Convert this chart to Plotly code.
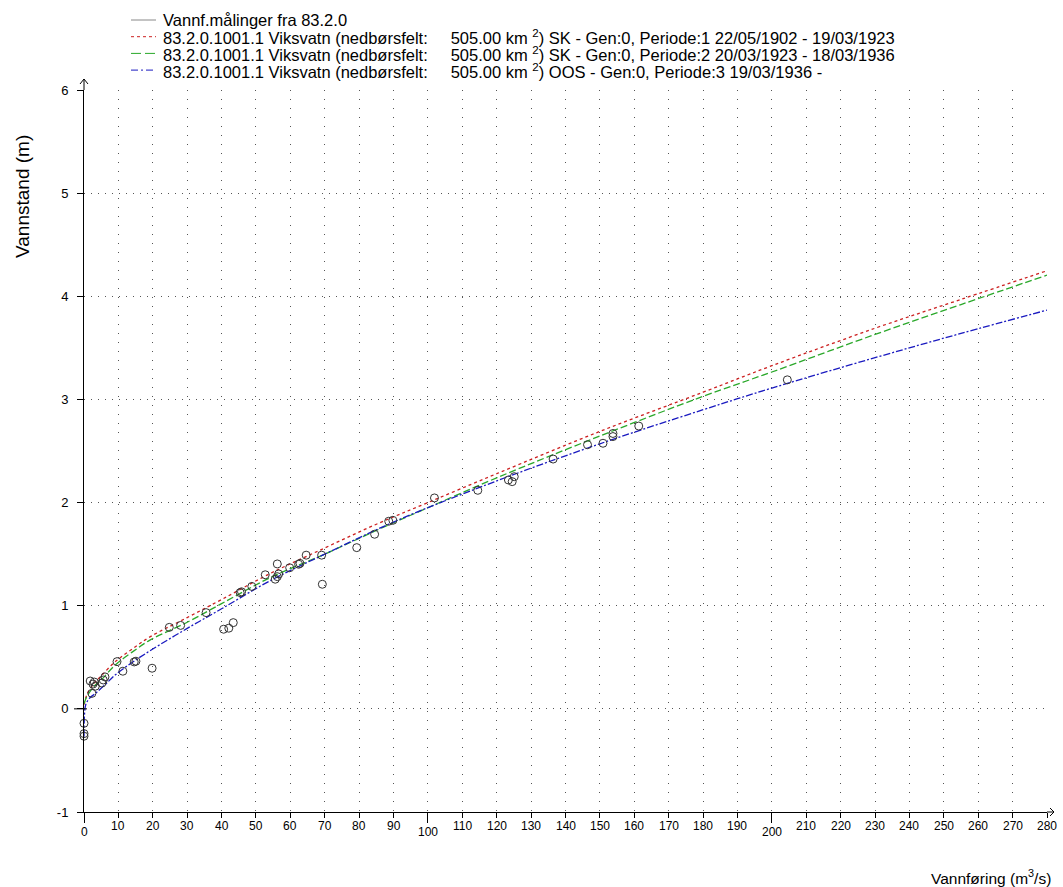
import plotly.graph_objects as go

# ---------------- data ----------------
meas_q = [0, 0, 0, 1.8, 2.3, 2.6, 3.0, 3.3, 5.2, 5.6, 6.1,
          9.6, 11.3, 14.6, 15.1, 19.8, 24.8, 28.1, 35.5, 40.6, 42.1, 43.4,
          45.4, 45.8, 48.8, 52.7, 55.6, 56.2, 56.6, 56.2, 59.8, 62.4, 62.8,
          64.6, 69.1, 69.3, 79.3, 84.5, 88.6, 89.8, 101.9, 114.5, 123.4,
          124.5, 125.1, 136.4, 146.4, 150.9, 153.8, 153.8, 161.3, 204.5]
meas_h = [-0.14, -0.24, -0.265, 0.27, 0.15, 0.24, 0.26, 0.22, 0.25, 0.28, 0.31,
          0.458, 0.365, 0.455, 0.462, 0.394, 0.79, 0.809, 0.933, 0.772, 0.782, 0.836,
          1.127, 1.135, 1.187, 1.30, 1.257, 1.282, 1.308, 1.405, 1.368, 1.402, 1.41,
          1.49, 1.49, 1.208, 1.563, 1.693, 1.819, 1.828, 2.045, 2.119, 2.219,
          2.203, 2.251, 2.422, 2.561, 2.575, 2.64, 2.67, 2.742, 3.19]

p1_q = [0, 1, 3, 5, 9.1, 14, 19.3, 30, 40, 54, 70, 85, 100, 120, 150, 180, 200, 230, 255, 280]
p1_h = [0.04, 0.15, 0.25, 0.32, 0.458, 0.58, 0.70, 0.885, 1.06, 1.31, 1.56, 1.79, 2.0, 2.28, 2.69, 3.07, 3.327, 3.69, 3.97, 4.247]

p2_q = [0, 1, 3, 5, 9.1, 14, 19.3, 30, 40, 54, 70, 85, 100, 120, 150, 180, 200, 230, 255, 280]
p2_h = [0.05, 0.13, 0.22, 0.28, 0.426, 0.55, 0.669, 0.84, 1.02, 1.27, 1.50, 1.73, 1.95, 2.24, 2.645, 3.03, 3.266, 3.63, 3.92, 4.205]

p3_q = [0, 0.15, 0.5, 1.5, 3.3, 6, 9.1, 14, 20, 30, 40, 54, 70, 92, 120, 150, 180, 200, 230, 255, 280]
p3_h = [-0.27, -0.05, 0.04, 0.10, 0.15, 0.23, 0.33, 0.45, 0.58, 0.78, 0.97, 1.24, 1.50, 1.84, 2.21, 2.57, 2.90, 3.11, 3.405, 3.64, 3.866]

x_ticks = list(range(0, 281, 10))
y_ticks = list(range(-1, 7))
x_range = [0, 280]
y_range = [-1, 6]

NB = "\u00a0"
legend_labels = [
    "Vannf.målinger fra 83.2.0",
    "83.2.0.1001.1 Viksvatn (nedbørsfelt:" + NB * 4 + " 505.00 km <sup>2</sup>) SK - Gen:0, Periode:1 22/05/1902 - 19/03/1923",
    "83.2.0.1001.1 Viksvatn (nedbørsfelt:" + NB * 4 + " 505.00 km <sup>2</sup>) SK - Gen:0, Periode:2 20/03/1923 - 18/03/1936",
    "83.2.0.1001.1 Viksvatn (nedbørsfelt:" + NB * 4 + " 505.00 km <sup>2</sup>) OOS - Gen:0, Periode:3 19/03/1936 -",
]

# ---------------- styles ----------------
W, H = 1063, 887
ML, MR, MT, MB = 84, 16, 90, 75
PW, PH = W - ML - MR, H - MT - MB
FONT = "Liberation Sans, Arial, sans-serif"

def px2x(px):
    return (px - ML) / PW

def px2y(py):
    return (H - MB - py) / PH

styles = [
    dict(color="#888888", dash="solid", width=1),
    dict(color="#cc2020", dash="3px,3px", width=1.3),
    dict(color="#2aa82a", dash="7px,3px", width=1.3),
    dict(color="#1a1ac0", dash="7px,2px,2px,2px", width=1.3),
]
legend_dash = ["solid", "3px,3px", "10px,4px", "7px,3px,2px,3px"]

fig = go.Figure()

for (q, h), st, name in zip([(p1_q, p1_h), (p2_q, p2_h), (p3_q, p3_h)], styles[1:], legend_labels[1:]):
    fig.add_trace(go.Scatter(x=q, y=h, mode="lines", name=name, line=st,
                             line_shape="spline", cliponaxis=False, showlegend=False))

fig.add_trace(go.Scatter(x=meas_q, y=meas_h, mode="markers", name=legend_labels[0],
                         marker=dict(symbol="circle-open", size=8, color="#333333",
                                     line=dict(width=1, color="#333333")),
                         cliponaxis=False, showlegend=False))

annotations = []
shapes = []

# custom legend (rows 16.7 px apart)
row_y = [20.5, 37.2, 53.9, 70.6]
for lab, st, dsh, ry in zip(legend_labels, styles, legend_dash, row_y):
    annotations.append(dict(text=lab, x=px2x(161), y=px2y(ry), xref="paper", yref="paper",
                            xanchor="left", yanchor="middle", showarrow=False,
                            font=dict(size=16.5, color="black", family=FONT)))
    shapes.append(dict(type="line", xref="paper", yref="paper",
                       x0=px2x(131), x1=px2x(156), y0=px2y(ry - 0.5), y1=px2y(ry - 0.5),
                       line=dict(color=st["color"], dash=dsh, width=1)))

# x tick labels (0/100/200 set lower)
for v in x_ticks:
    low = (v % 100 == 0)
    annotations.append(dict(text=str(v), x=v, xref="x", y=0, yref="paper",
                            xanchor="center", yanchor="middle", showarrow=False,
                            yshift=-20 if low else -14,
                            font=dict(size=12, color="black", family=FONT)))

# axis titles
annotations.append(dict(text="Vannstand (m)", x=px2x(22), y=px2y(197), xref="paper", yref="paper",
                        textangle=-90, showarrow=False, xanchor="center", yanchor="middle",
                        font=dict(size=19, color="black", family=FONT)))
annotations.append(dict(text="Vannføring (m<sup>3</sup>/s)", x=px2x(1053), y=px2y(877),
                        xref="paper", yref="paper", xanchor="right", yanchor="middle",
                        showarrow=False, font=dict(size=15.5, color="black", family=FONT)))

# axis arrows
shapes.append(dict(type="path", xref="paper", yref="paper", xsizemode="pixel", ysizemode="pixel",
                   xanchor=0, yanchor=1, path="M 0,0 L 0,11 M -4,6 L 0,11 L 4,6",
                   line=dict(color="black", width=1)))
shapes.append(dict(type="path", xref="paper", yref="paper", xsizemode="pixel", ysizemode="pixel",
                   xanchor=1, yanchor=0, path="M 0,0 L 7,0 M 3,4 L 7,0 L 3,-4",
                   line=dict(color="black", width=1)))
# longer zero tick on y axis
zero_frac = (0 - y_range[0]) / (y_range[1] - y_range[0])
shapes.append(dict(type="path", xref="paper", yref="paper", xsizemode="pixel", ysizemode="pixel",
                   xanchor=0, yanchor=zero_frac, path="M -10,0 L 3,0",
                   line=dict(color="black", width=1)))

grid_col = "#555555"
fig.update_layout(
    width=W, height=H,
    margin=dict(l=ML, r=MR, t=MT, b=MB),
    paper_bgcolor="white", plot_bgcolor="white",
    font=dict(family=FONT, color="black"),
    showlegend=False,
    annotations=annotations,
    shapes=shapes,
    xaxis=dict(range=x_range, showline=True, linecolor="black", linewidth=1,
               zeroline=False, showticklabels=False,
               tickmode="linear", tick0=0, dtick=100, ticks="outside", ticklen=10,
               tickcolor="black", showgrid=True, gridcolor=grid_col, griddash="1px,8px", gridwidth=1,
               minor=dict(tickmode="linear", tick0=0, dtick=10, ticks="outside", ticklen=5,
                          tickcolor="black", showgrid=True, gridcolor=grid_col,
                          griddash="1px,8px", gridwidth=1)),
    yaxis=dict(range=y_range, showline=True, linecolor="black", linewidth=1,
               zeroline=False, tickmode="array", tickvals=y_ticks,
               ticktext=[str(v) for v in y_ticks],
               ticks="outside", ticklen=6, tickcolor="black", ticklabelstandoff=6,
               tickfont=dict(size=13, family=FONT, color="black"),
               showgrid=True, gridcolor=grid_col, griddash="1px,6px", gridwidth=1),
)

fig.write_html("out.html", config={"displayModeBar": False},
               post_script="document.body.style.margin='0';")
